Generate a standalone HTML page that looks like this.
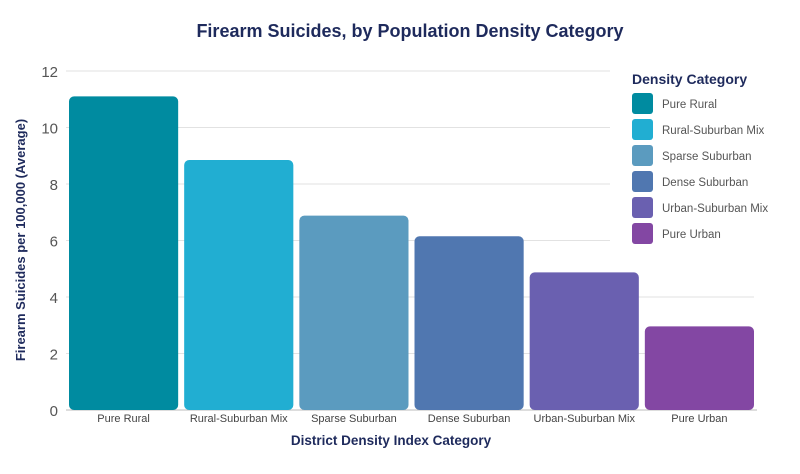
<!DOCTYPE html>
<html><head><meta charset="utf-8"><style>
body{margin:0;background:#fff;font-family:"Liberation Sans",sans-serif}
svg text{font-family:"Liberation Sans",sans-serif}
</style></head><body>
<svg width="800" height="469" viewBox="0 0 800 469">
<text x="410" y="37" text-anchor="middle" font-size="18" font-weight="bold" fill="#1e2a5c">Firearm Suicides, by Population Density Category</text>
<g id="grid"></g>
<g id="bars"></g>
<text transform="translate(25,240) rotate(-90)" text-anchor="middle" font-size="13" font-weight="bold" fill="#1e2a5c">Firearm Suicides per 100,000 (Average)</text>
<text x="391" y="445" text-anchor="middle" font-size="13.5" font-weight="bold" fill="#1e2a5c">District Density Index Category</text>
<rect x="610" y="62" width="190" height="190" fill="#fff"/>
<text x="632" y="84" font-size="14" font-weight="bold" fill="#1e2a5c">Density Category</text>
<g id="legend"></g>
</svg>
<script>
const categories=["Pure Rural","Rural-Suburban Mix","Sparse Suburban","Dense Suburban","Urban-Suburban Mix","Pure Urban"];
const values=[11.1,8.85,6.88,6.15,4.87,2.96];
const colors=["#008ba0","#21aed2","#5b9bbf","#5077b0","#6a60b0","#8347a3"];
const yTicks=[0,2,4,6,8,10,12];
const NS="http://www.w3.org/2000/svg";
const y0=410,yTop=71,xL=66,xR=757;
function y(v){return y0-(v/12)*(y0-yTop);}
const band=(xR-xL)/categories.length;
function x(i){return xL+band*i;}
function mk(t,a,p){const e=document.createElementNS(NS,t);for(const k in a)e.setAttribute(k,a[k]);p.appendChild(e);return e;}
const g=document.getElementById('grid');
yTicks.forEach(t=>{
 const l=mk('line',{x1:xL,x2:t===0?xR:754,y1:y(t),y2:y(t),stroke:t===0?'#bbb':'#e2e2e2','stroke-width':1},g);
 
 
 const tx=mk('text',{x:58,y:y(t)+6,'text-anchor':'end','font-size':15,fill:'#555'},g);
 tx.textContent=t;
 
 
});
const b=document.getElementById('bars');
categories.forEach((c,i)=>{
 const r=mk('rect',{x:x(i)+3,y:y(values[i]),width:band-6,height:y0-y(values[i]),rx:5,fill:colors[i]},b);
 
 
 const t=mk('text',{x:x(i)+band/2,y:422,'text-anchor':'middle','font-size':11,fill:'#444'},b);
 t.textContent=c;
 
 
});
const lg=document.getElementById('legend');
categories.forEach((c,i)=>{
 const yy=93+i*26;
 const s=mk('rect',{x:632,y:yy,width:21,height:21,rx:3,fill:colors[i]},lg);
 
 
 const t=mk('text',{x:662,y:yy+15,'font-size':11.5,fill:'#555'},lg);
 t.textContent=c;
 
 
});
</script>
</body></html>
